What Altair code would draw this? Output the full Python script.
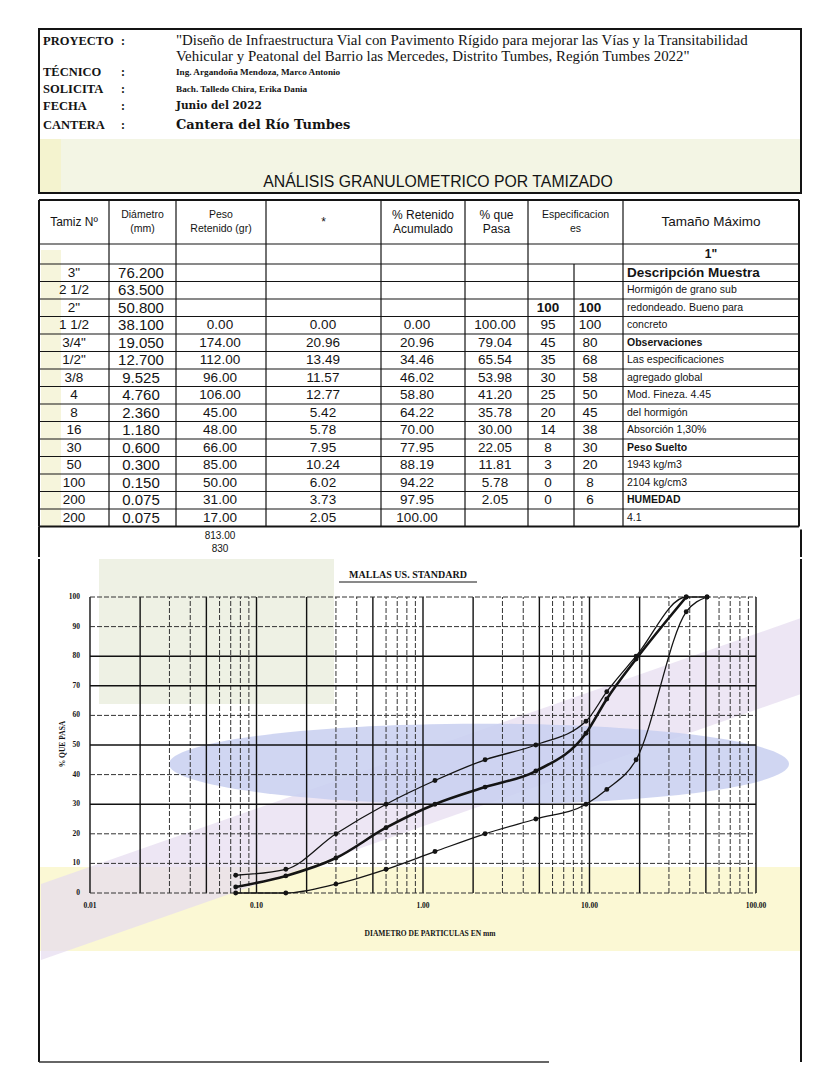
import math
import altair as alt
import pandas as pd

# ------------------------------------------------------------------ data
project_lines = [
    '"Diseño de Infraestructura Vial con Pavimento Rígido para mejorar las Vías y la Transitabilidad',
    'Vehicular y Peatonal del Barrio las Mercedes, Distrito Tumbes, Región Tumbes    2022"',
]
header_labels = ["PROYECTO", "TÉCNICO", "SOLICITA", "FECHA", "CANTERA"]
header_values = [None, "Ing. Argandoña Mendoza, Marco Antonio",
                 "Bach. Talledo Chira, Erika Dania", "Junio del 2022",
                 "Cantera del Río Tumbes"]
table_title = "ANÁLISIS GRANULOMETRICO POR TAMIZADO"

col_headers = [["Tamiz Nº"], ["Diámetro", "(mm)"], ["Peso", "Retenido (gr)"], ["*"],
               ["% Retenido", "Acumulado"], ["% que", "Pasa"], ["Especificacion", "es"],
               ["Tamaño Máximo"]]
tamiz = ['3"', '2 1/2', '2"', '1 1/2', '3/4"', '1/2"', '3/8', '4', '8', '16',
         '30', '50', '100', '200', '200']
diametro_txt = ["76.200", "63.500", "50.800", "38.100", "19.050", "12.700", "9.525",
                "4.760", "2.360", "1.180", "0.600", "0.300", "0.150", "0.075", "0.075"]
diametro_mm = [76.2, 63.5, 50.8, 38.1, 19.05, 12.7, 9.525, 4.76, 2.36, 1.18,
               0.6, 0.3, 0.15, 0.075, 0.075]
peso_retenido = [None, None, None, 0.00, 174.00, 112.00, 96.00, 106.00, 45.00,
                 48.00, 66.00, 85.00, 50.00, 31.00, 17.00]
pct_retenido = [None, None, None, 0.00, 20.96, 13.49, 11.57, 12.77, 5.42, 5.78,
                7.95, 10.24, 6.02, 3.73, 2.05]
pct_ret_acum = [None, None, None, 0.00, 20.96, 34.46, 46.02, 58.80, 64.22, 70.00,
                77.95, 88.19, 94.22, 97.95, 100.00]
pct_pasa = [None, None, None, 100.00, 79.04, 65.54, 53.98, 41.20, 35.78, 30.00,
            22.05, 11.81, 5.78, 2.05, None]
spec_min = [None, None, 100, 95, 45, 35, 30, 25, 20, 14, 8, 3, 0, 0, None]
spec_max = [None, None, 100, 100, 80, 68, 58, 50, 45, 38, 30, 20, 8, 6, None]
tamano_maximo = '1"'
side_notes = ["Descripción Muestra", "Hormigón de grano sub", "redondeado. Bueno para",
              "concreto", "Observaciones", "Las especificaciones", "agregado global",
              "Mod. Fineza. 4.45", "del hormigón", "Absorción  1,30%", "Peso Suelto",
              "1943 kg/m3", "2104 kg/cm3", "HUMEDAD", "4.1"]
side_bold = ["Observaciones", "Peso Suelto", "HUMEDAD"]
peso_totals = ["813.00", "830"]

chart_title = "MALLAS US. STANDARD"
x_ticks = [0.01, 0.1, 1, 10, 100]
x_tick_labels = ["0.01", "0.10", "1.00", "10.00", "100.00"]
y_ticks = [0, 10, 20, 30, 40, 50, 60, 70, 80, 90, 100]
x_title = "DIAMETRO DE PARTICULAS EN mm"
y_title = "% QUE PASA"

# ------------------------------------------------------------------ layout
W = 762
A_H, B_H, C_H = 164, 363, 507
SERIF = "Liberation Serif"
WSERIF = "DejaVu Serif"
SANS = "Liberation Sans"
INK = "#141414"
ONE = pd.DataFrame({"k": [0]})


def idx(h):
    return alt.Scale(domain=[0, W], nice=False, zero=False), \
        alt.Scale(domain=[0, h], nice=False, zero=False, reverse=True)


def rect_layer(df, sx, sy, **mk):
    return alt.Chart(df).mark_rect(**mk).encode(
        x=alt.X("x0:Q", scale=sx, axis=None), x2="x1:Q",
        y=alt.Y("y0:Q", scale=sy, axis=None), y2="y1:Q")


def hrule_layer(df, sx, sy, **mk):
    return alt.Chart(df).mark_rule(**mk).encode(
        x=alt.X("x0:Q", scale=sx, axis=None), x2="x1:Q",
        y=alt.Y("y:Q", scale=sy, axis=None))


def vrule_layer(df, sx, sy, **mk):
    return alt.Chart(df).mark_rule(**mk).encode(
        x=alt.X("x:Q", scale=sx, axis=None),
        y=alt.Y("y0:Q", scale=sy, axis=None), y2="y1:Q")


def text_layer(df, sx, sy, **mk):
    return alt.Chart(df).mark_text(baseline="middle", color=INK, **mk).encode(
        x=alt.X("x:Q", scale=sx, axis=None),
        y=alt.Y("y:Q", scale=sy, axis=None), text="t:N")


# ------------------------------------------------------------------ panel A : header
ax, ay = idx(A_H)
lab_y = [12, 43, 60, 77, 96]
a_layers = [
    rect_layer(pd.DataFrame({"x0": [0], "x1": [W], "y0": [110], "y1": [A_H]}), ax, ay,
               color="#f3f5e4"),
    rect_layer(pd.DataFrame({"x0": [0], "x1": [22], "y0": [110], "y1": [A_H]}), ax, ay,
               color="#f4f3cf"),
    rect_layer(pd.DataFrame({"x0": [0], "x1": [W], "y0": [0], "y1": [A_H]}), ax, ay,
               fill=None, stroke=INK, strokeWidth=2),
    text_layer(pd.DataFrame({"x": [4] * 5, "y": lab_y, "t": header_labels}), ax, ay,
               align="left", font=SERIF, fontSize=12.5, fontWeight="bold"),
    text_layer(pd.DataFrame({"x": [82] * 5, "y": lab_y, "t": [":"] * 5}), ax, ay,
               align="left", font=SERIF, fontSize=12, fontWeight="bold"),
    text_layer(pd.DataFrame({"x": [137, 137], "y": [12, 28], "t": project_lines}), ax, ay,
               align="left", font=SERIF, fontSize=14.9),
    text_layer(pd.DataFrame({"x": [137] * 2, "y": lab_y[1:3], "t": header_values[1:3]}),
               ax, ay, align="left", font=SERIF, fontSize=9.2, fontWeight="bold"),
    text_layer(pd.DataFrame({"x": [137], "y": [77], "t": [header_values[3]]}), ax, ay,
               align="left", font=WSERIF, fontSize=10.5, fontWeight="bold"),
    text_layer(pd.DataFrame({"x": [137], "y": [96], "t": [header_values[4]]}), ax, ay,
               align="left", font=WSERIF, fontSize=13, fontWeight="bold"),
    text_layer(pd.DataFrame({"x": [399], "y": [153], "t": [table_title]}), ax, ay,
               align="center", font=SANS, fontSize=15.8),
]
panel_a = alt.layer(*a_layers).properties(width=W, height=A_H)

# ------------------------------------------------------------------ panel B : table
bx, by = idx(B_H)
edges = [0, 70, 137, 227, 342, 426, 489, 584, 760]
spec_split = 535
T0, H1, H2 = 6, 50, 70
RH = 17.5
NR = len(tamiz)
row_edges = [H2 + RH * i for i in range(NR + 1)]
TB = row_edges[-1]


def ry(i):
    return H2 + RH * i + RH / 2


hl = pd.DataFrame({"y": [H1, H2] + row_edges[1:-1], "x0": 0, "x1": 760})
hl_outer = pd.DataFrame({"y": [T0, TB], "x0": 0, "x1": 760})
vl = pd.DataFrame({"x": edges[1:-1], "y0": T0, "y1": TB})
vl_split = pd.DataFrame({"x": [spec_split], "y0": [H2], "y1": [TB]})
vl_outer = pd.DataFrame({"x": [0, 760], "y0": T0, "y1": TB})
frame_b = pd.DataFrame({"x": [0, W], "y0": [TB, TB + 3], "y1": [B_H, B_H]})

# header texts
hdr_cx = [(edges[i] + edges[i + 1]) / 2 for i in range(len(edges) - 1)]
hdr_rows = []
for cx_, lines in zip(hdr_cx, col_headers):
    if len(lines) == 1:
        hdr_rows.append({"x": cx_, "y": 28, "t": lines[0]})
    else:
        hdr_rows.append({"x": cx_, "y": 21, "t": lines[0]})
        hdr_rows.append({"x": cx_, "y": 35, "t": lines[1]})
hdr_df = pd.DataFrame(hdr_rows)
hdr_small = hdr_df[hdr_df.t.isin(["Diámetro", "(mm)", "Peso", "Retenido (gr)",
                                  "Especificacion", "es"])]
hdr_mid = hdr_df[hdr_df.t.isin(["Tamiz Nº", "% Retenido", "Acumulado", "% que", "Pasa", "*"])]
hdr_big = hdr_df[hdr_df.t.isin(["Tamaño Máximo"])]


def fmt(v):
    return None if v is None else f"{v:.2f}"


def col_df(xpos, vals):
    rows = [{"x": xpos, "y": ry(i), "t": v} for i, v in enumerate(vals) if v is not None]
    return pd.DataFrame(rows)


tam_df = col_df(35, tamiz)
dia_df = col_df(102, diametro_txt)
peso_df = col_df(181, [fmt(v) for v in peso_retenido])
ret_df = col_df(284, [fmt(v) for v in pct_retenido])
acum_df = col_df(378, [fmt(v) for v in pct_ret_acum])
pasa_df = col_df(456, [fmt(v) for v in pct_pasa])
smin_txt = [None if v is None else str(v) for v in spec_min]
smax_txt = [None if v is None else str(v) for v in spec_max]
smin_df = col_df(509, smin_txt)
smax_df = col_df(551, smax_txt)
spec_bold = pd.concat([smin_df[smin_df.y == ry(2)], smax_df[smax_df.y == ry(2)]])
spec_reg = pd.concat([smin_df[smin_df.y != ry(2)], smax_df[smax_df.y != ry(2)]])
notes_df = col_df(588, side_notes)
notes_title = notes_df[notes_df.t == side_notes[0]]
notes_bold = notes_df[notes_df.t.isin(side_bold)]
notes_reg = notes_df[~notes_df.t.isin(side_bold + [side_notes[0]])]
tmax_df = pd.DataFrame({"x": [(584 + 760) / 2], "y": [(H1 + H2) / 2], "t": [tamano_maximo]})
tot_df = pd.DataFrame({"x": [181, 181], "y": [TB + 9, TB + 22], "t": peso_totals})

b_layers = [
    rect_layer(pd.DataFrame({"x0": [2], "x1": [22], "y0": [T0 + 50], "y1": [TB]}), bx, by,
               color="#f6f5dc"),
    hrule_layer(hl, bx, by, color=INK, strokeWidth=1.2),
    hrule_layer(hl_outer, bx, by, color=INK, strokeWidth=2),
    vrule_layer(vl, bx, by, color=INK, strokeWidth=1.2),
    vrule_layer(vl_split, bx, by, color=INK, strokeWidth=1.2),
    vrule_layer(vl_outer, bx, by, color=INK, strokeWidth=2),
    vrule_layer(frame_b, bx, by, color=INK, strokeWidth=2),
    text_layer(hdr_small, bx, by, align="center", font=SANS, fontSize=10.5),
    text_layer(hdr_mid, bx, by, align="center", font=SANS, fontSize=12),
    text_layer(hdr_big, bx, by, align="center", font=SANS, fontSize=13.5),
    text_layer(tam_df, bx, by, align="center", font=SANS, fontSize=13.5),
    text_layer(dia_df, bx, by, align="center", font=SANS, fontSize=15),
    text_layer(peso_df, bx, by, align="center", font=SANS, fontSize=13.5),
    text_layer(ret_df, bx, by, align="center", font=SANS, fontSize=13.5),
    text_layer(acum_df, bx, by, align="center", font=SANS, fontSize=13.5),
    text_layer(pasa_df, bx, by, align="center", font=SANS, fontSize=13.5),
    text_layer(spec_reg, bx, by, align="center", font=SANS, fontSize=13.5),
    text_layer(spec_bold, bx, by, align="center", font=SANS, fontSize=13.5, fontWeight="bold"),
    text_layer(notes_title, bx, by, align="left", font=SANS, fontSize=13.5, fontWeight="bold"),
    text_layer(notes_bold, bx, by, align="left", font=SANS, fontSize=10.5, fontWeight="bold"),
    text_layer(notes_reg, bx, by, align="left", font=SANS, fontSize=10.5),
    text_layer(tmax_df, bx, by, align="center", font=SANS, fontSize=12, fontWeight="bold"),
    text_layer(tot_df, bx, by, align="center", font=SANS, fontSize=10),
]
panel_b = alt.layer(*b_layers).properties(width=W, height=B_H)

# ------------------------------------------------------------------ panel C : chart
X0, DEC = 51, 166.5          # pixel of 0.01 and pixels per decade
Y100, Y0 = 38, 334           # pixels of 100 % and 0 %
PPU = (Y0 - Y100) / 100.0
cx = alt.Scale(type="log", domain=[10 ** (-2 - X0 / DEC), 10 ** (-2 + (W - X0) / DEC)],
               nice=False)
cy = alt.Scale(domain=[-(C_H - Y0) / PPU, 100 + Y100 / PPU], nice=False, zero=False)
px, py = idx(C_H)

vert = [m * 10 ** e for e in (-2, -1, 0, 1) for m in range(1, 10)] + [100]
solid_v = [v for v in vert if round(v / 10 ** math.floor(math.log10(v) + 1e-9)) in (1, 2, 5)]
dash_v = [v for v in vert if v not in solid_v]
solid_h = [30, 50, 70, 80]
dash_h = [v for v in y_ticks if v not in solid_h]


def vgrid(vals, **mk):
    df = pd.DataFrame({"v": vals, "a": 0, "b": 100})
    return alt.Chart(df).mark_rule(**mk).encode(
        x=alt.X("v:Q", scale=cx, axis=None), y=alt.Y("a:Q", scale=cy, axis=None), y2="b:Q")


def hgrid(vals, **mk):
    df = pd.DataFrame({"v": vals, "a": 0.01, "b": 100})
    return alt.Chart(df).mark_rule(**mk).encode(
        y=alt.Y("v:Q", scale=cy, axis=None), x=alt.X("a:Q", scale=cx, axis=None), x2="b:Q")


def series(d, p):
    return pd.DataFrame([{"d": a, "p": b} for a, b in zip(d, p) if b is not None])


sample = series(diametro_mm[:-1], pct_pasa[:-1])
lower = series(diametro_mm, spec_min)
upper = series(diametro_mm, spec_max)


def curve(df, w):
    base = alt.Chart(df).encode(x=alt.X("d:Q", scale=cx, axis=None),
                                y=alt.Y("p:Q", scale=cy, axis=None))
    return [base.mark_line(color=INK, strokeWidth=w, interpolate="monotone"),
            base.mark_circle(color=INK, size=24, opacity=1)]


ellipse = "M -1 0 A 1 0.13 0 1 0 1 0 A 1 0.13 0 1 0 -1 0 Z"
band = "M -1 0.55 L 1 -0.15 L 1 0.05 L -1 0.75 Z"

c_layers = [
    rect_layer(pd.DataFrame({"x0": [1], "x1": [W - 1], "y0": [308], "y1": [392]}), px, py,
               color="#fbf8d4"),
    rect_layer(pd.DataFrame({"x0": [60], "x1": [295], "y0": [0], "y1": [145]}), px, py,
               color="#eef1e4"),
    alt.Chart(ONE).mark_point(shape=band, filled=True, color="#e6dcf0", opacity=0.7,
                              size=577600).encode(x=alt.value(382), y=alt.value(116)),
    alt.Chart(ONE).mark_point(shape=ellipse, filled=True, color="#c8cff0", opacity=0.85,
                              size=384400).encode(x=alt.value(440), y=alt.value(205)),
    vgrid(dash_v, color="#333", strokeWidth=1, strokeDash=[5, 2]),
    vgrid(solid_v, color="#111", strokeWidth=1.4),
    hgrid(dash_h, color="#333", strokeWidth=1, strokeDash=[5, 2]),
    hgrid(solid_h, color="#111", strokeWidth=1.4),
    *curve(upper, 1.3),
    *curve(lower, 1.3),
    *curve(sample, 2.6),
    alt.Chart(pd.DataFrame({"v": y_ticks, "t": [str(v) for v in y_ticks]})).mark_text(
        align="right", baseline="middle", font=SERIF, fontSize=7.5, fontWeight="bold",
        color=INK).encode(x=alt.value(X0 - 10), y=alt.Y("v:Q", scale=cy, axis=None),
                          text="t:N"),
    alt.Chart(pd.DataFrame({"v": x_ticks, "t": x_tick_labels})).mark_text(
        align="center", baseline="middle", font=SERIF, fontSize=7.5, fontWeight="bold",
        color=INK).encode(x=alt.X("v:Q", scale=cx, axis=None), y=alt.value(Y0 + 13),
                          text="t:N"),
    alt.Chart(ONE).mark_text(text=x_title, font=SERIF, fontSize=7.5, fontWeight="bold",
                             color=INK).encode(x=alt.value(391), y=alt.value(375)),
    alt.Chart(ONE).mark_text(text=y_title, font=SERIF, fontSize=7.5, fontWeight="bold",
                             angle=270, color=INK).encode(x=alt.value(24), y=alt.value(185)),
    alt.Chart(ONE).mark_text(text=chart_title, font=SERIF, fontSize=10, fontWeight="bold",
                             color=INK).encode(x=alt.value(369), y=alt.value(16)),
    alt.Chart(ONE).mark_rule(color=INK, strokeWidth=1).encode(
        x=alt.value(300), x2=alt.value(438), y=alt.value(23)),
    vrule_layer(pd.DataFrame({"x": [0, W], "y0": [0, 0], "y1": [503, 503]}), px, py,
                color=INK, strokeWidth=2),
    hrule_layer(pd.DataFrame({"y": [503], "x0": [0], "x1": [510]}), px, py,
                color="#333", strokeWidth=1.5),
]
panel_c = alt.layer(*c_layers).resolve_scale(x="independent", y="independent").properties(
    width=W, height=C_H)

chart = alt.vconcat(panel_a, panel_b, panel_c, spacing=0).properties(
    padding={"left": 30, "top": 20, "right": 0, "bottom": 0}, background="white"
).configure_view(stroke=None)

chart.save("out.html", embed_options={"renderer": "svg", "actions": False})
